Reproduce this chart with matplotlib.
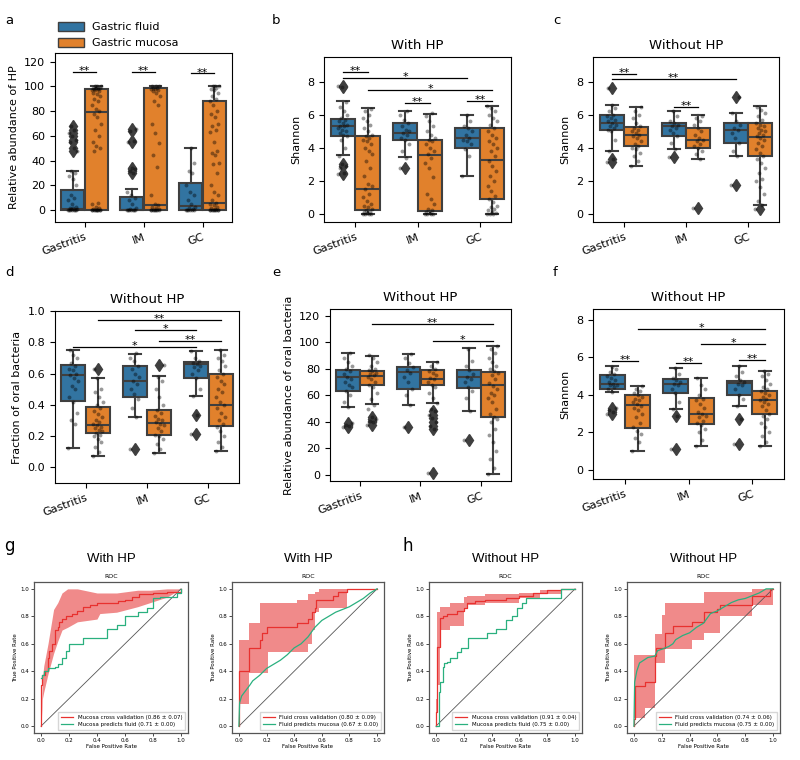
import matplotlib.pyplot as plt
import numpy as np

plt.rcParams['font.family'] = 'DejaVu Sans'

groups = ['Gastritis', 'IM', 'GC']
hue_names = ['Gastric fluid', 'Gastric mucosa']
box_colors = ['#3274a1', '#e1812c']
edge = '#3f3f3f'

# ---------------- panel a : relative abundance of HP ----------------
a_fluid = [
    [0, 0, 0, 0, 0.2, 0.3, 0.5, 1, 1, 1.5, 2, 3, 5, 8, 10, 12, 20, 25, 28, 30, 32,
     48, 50, 55, 57, 60, 62, 65, 68],
    [0, 0, 0, 0, 0, 0.3, 0.5, 1, 2, 5, 8, 10, 12, 15, 30, 32, 33, 34, 55, 56, 64, 66],
    [0, 0, 0, 0, 0, 0.5, 1, 2, 3, 5, 8, 12, 15, 20, 30, 32, 38, 50],
]
a_mucosa = [
    [0, 0, 0, 0, 0, 0, 0, 0.2, 0.3, 0.5, 1, 2, 3, 5, 6, 48, 50, 52, 55, 60, 65, 70, 75,
     78, 80, 82, 85, 88, 90, 92, 94, 95, 96, 97, 97, 98, 98, 99, 99, 99, 99, 100, 100, 100],
    [0, 0, 0, 0, 0, 0, 0, 0.5, 1, 2, 3, 4, 5, 12, 35, 45, 54, 62, 70, 85, 88, 92, 95, 96,
     97, 98, 98, 99, 99, 100, 100, 100],
    [0, 0, 0, 0, 0, 0, 0, 0.3, 0.5, 1, 2, 3, 4, 5, 6, 8, 12, 15, 20, 30, 37, 38, 45, 46, 48,
     55, 63, 65, 68, 70, 75, 78, 80, 85, 88, 90, 92, 95, 97, 98, 99, 100, 100, 100],
]
# box stats: (whisker low, q1, median, q3, whisker high)
a_fluid_box = [(0, 0, 1, 16.7, 32), (0, 0, 0.5, 10.8, 17), (0, 0, 3.2, 22, 50)]
a_mucosa_box = [(0, 0.5, 79.5, 98.3, 100), (0, 0, 4.3, 99, 100), (0, 0.3, 6, 88.5, 100)]
a_fluid_fliers = [[48, 50, 55, 57, 60, 62, 65, 68], [30, 32, 33, 34, 55, 56, 64, 66], []]
a_mucosa_fliers = [[], [], []]
# significance: (group1, hue1, group2, hue2, y, text)
a_sig = [(0, 0, 0, 1, 112, '**'), (1, 0, 1, 1, 111.5, '**'), (2, 0, 2, 1, 110.5, '**')]

# ---------------- panel b : Shannon with HP ----------------
b_fluid = [
    [2.4, 2.5, 2.8, 2.9, 3.0, 3.5, 4.0, 4.5, 4.7, 4.8, 4.9, 5.0, 5.1, 5.2, 5.3, 5.3, 5.4,
     5.5, 5.6, 5.7, 5.8, 6.0, 6.2, 6.5, 6.8, 7.7, 7.75],
    [2.8, 3.4, 3.8, 4.2, 4.5, 4.6, 4.8, 4.9, 5.0, 5.1, 5.3, 5.5, 5.7, 6.0, 6.2],
    [2.3, 3.5, 3.9, 4.2, 4.4, 4.5, 4.6, 4.8, 5.0, 5.2, 5.3, 5.6, 6.0],
]
b_mucosa = [
    [0, 0, 0, 0, 0.05, 0.1, 0.1, 0.2, 0.3, 0.4, 0.5, 0.6, 0.8, 1.0, 1.2, 1.5, 1.7, 1.8,
     2.3, 2.8, 3.2, 3.6, 3.8, 4.0, 4.2, 4.4, 4.5, 4.6, 4.7, 4.8, 5.0, 5.2, 5.4, 5.6, 5.8,
     6.0, 6.2, 6.35],
    [0, 0, 0, 0, 0.05, 0.1, 0.2, 0.3, 0.6, 0.9, 1.2, 2.2, 2.8, 3.1, 3.4, 3.6, 3.8, 4.0,
     4.2, 4.4, 4.5, 4.6, 4.8, 5.0, 5.3, 5.6, 5.9, 6.1],
    [0, 0, 0, 0.05, 0.1, 0.2, 0.3, 0.4, 0.5, 0.7, 0.9, 1.1, 1.4, 1.7, 2.0, 2.3, 2.6, 2.9,
     3.2, 3.5, 3.8, 4.0, 4.2, 4.4, 4.6, 4.8, 5.0, 5.2, 5.4, 5.6, 5.8, 6.0, 6.2, 6.4, 6.55],
]
b_fluid_box = [(3.54, 4.72, 5.32, 5.75, 6.84), (3.42, 4.45, 4.92, 5.47, 6.21),
               (2.27, 3.99, 4.6, 5.2, 6.01)]
b_mucosa_box = [(0, 0.2, 1.5, 4.7, 6.38), (0, 0.16, 3.58, 4.5, 6.07), (0, 0.89, 3.24, 5.22, 6.56)]
b_fluid_fliers = [[7.7, 7.75, 3.0, 2.9, 2.5, 2.4], [2.8], []]
b_mucosa_fliers = [[], [], []]
b_sig = [(0, 0, 0, 1, 8.6, '**'), (0, 0, 2, 0, 8.22, '*'), (0, 1, 2, 1, 7.53, '*'),
         (1, 0, 1, 1, 6.74, '**'), (2, 0, 2, 1, 6.84, '**')]

# ---------------- panel c : Shannon without HP ----------------
c_fluid = [
    [3.15, 3.3, 3.8, 4.5, 5.0, 5.1, 5.2, 5.3, 5.4, 5.5, 5.6, 5.7, 5.8, 5.9, 6.0, 6.2, 6.4,
     6.6, 7.65],
    [3.45, 3.95, 4.3, 4.7, 4.9, 5.1, 5.2, 5.3, 5.4, 5.5, 5.6, 5.9, 6.2],
    [1.75, 3.5, 3.8, 4.3, 4.6, 4.9, 5.1, 5.2, 5.4, 5.6, 6.1, 7.1],
]
c_mucosa = [
    [2.9, 3.2, 3.5, 3.7, 3.9, 4.0, 4.1, 4.2, 4.4, 4.6, 4.7, 4.8, 4.9, 5.0, 5.1, 5.2, 5.3,
     5.5, 5.8, 6.0, 6.2, 6.45],
    [0.35, 3.3, 3.6, 3.8, 4.0, 4.1, 4.2, 4.4, 4.5, 4.6, 4.8, 5.0, 5.2, 5.4, 5.6, 5.8, 5.95],
    [0.28, 0.55, 0.8, 1.2, 1.6, 2.0, 2.1, 2.5, 2.8, 3.1, 3.3, 3.5, 3.7, 3.9, 4.1, 4.3, 4.5,
     4.6, 4.7, 4.8, 4.9, 5.0, 5.1, 5.2, 5.3, 5.4, 5.5, 5.7, 5.9, 6.1, 6.3, 6.5],
]
c_fluid_box = [(3.8, 5.06, 5.5, 5.97, 6.62), (3.95, 4.7, 5.3, 5.5, 6.21),
               (3.48, 4.31, 5.1, 5.47, 6.11)]
c_mucosa_box = [(2.9, 4.09, 4.8, 5.26, 6.48), (3.3, 4.0, 4.49, 5.22, 5.97),
                (0.55, 3.5, 4.64, 5.5, 6.52)]
c_fluid_fliers = [[7.65, 3.3, 3.15], [3.45], [7.1, 1.75]]
c_mucosa_fliers = [[], [0.35], [0.28]]
c_sig = [(0, 0, 0, 1, 8.46, '**'), (0, 0, 2, 0, 8.16, '**'), (1, 0, 1, 1, 6.48, '**')]

# ---------------- panel d : fraction of oral bacteria ----------------
d_fluid = [
    [0.126, 0.28, 0.3, 0.35, 0.42, 0.45, 0.5, 0.52, 0.55, 0.57, 0.59, 0.6, 0.62, 0.63,
     0.65, 0.67, 0.7, 0.72, 0.75],
    [0.12, 0.32, 0.38, 0.44, 0.47, 0.5, 0.53, 0.55, 0.58, 0.6, 0.63, 0.65, 0.68, 0.7, 0.73],
    [0.215, 0.335, 0.455, 0.5, 0.57, 0.6, 0.62, 0.64, 0.65, 0.66, 0.67, 0.68, 0.7, 0.745],
]
d_mucosa = [
    [0.072, 0.1, 0.13, 0.16, 0.18, 0.2, 0.21, 0.22, 0.23, 0.24, 0.25, 0.26, 0.27, 0.28,
     0.29, 0.3, 0.32, 0.34, 0.36, 0.38, 0.4, 0.42, 0.45, 0.48, 0.5, 0.57, 0.63],
    [0.09, 0.12, 0.15, 0.18, 0.2, 0.21, 0.23, 0.25, 0.27, 0.28, 0.29, 0.3, 0.31, 0.33,
     0.35, 0.37, 0.4, 0.45, 0.5, 0.55, 0.58, 0.655],
    [0.106, 0.13, 0.16, 0.2, 0.23, 0.26, 0.28, 0.3, 0.32, 0.35, 0.38, 0.4, 0.42, 0.45, 0.48,
     0.5, 0.53, 0.55, 0.58, 0.6, 0.62, 0.65, 0.68, 0.7, 0.72, 0.75],
]
d_fluid_box = [(0.126, 0.425, 0.589, 0.653, 0.749), (0.321, 0.447, 0.553, 0.647, 0.728),
               (0.455, 0.572, 0.66, 0.672, 0.745)]
d_mucosa_box = [(0.072, 0.221, 0.274, 0.383, 0.574), (0.089, 0.209, 0.285, 0.37, 0.583),
                (0.106, 0.264, 0.402, 0.594, 0.749)]
d_fluid_fliers = [[], [0.12], [0.335, 0.215]]
d_mucosa_fliers = [[0.63], [0.655], []]
d_sig = [(0, 1, 2, 1, 0.94, '**'), (1, 0, 2, 0, 0.877, '*'), (1, 1, 2, 1, 0.806, '**'),
         (0, 0, 2, 0, 0.77, '*')]

# ---------------- panel e : relative abundance of oral bacteria ----------------
e_fluid = [
    [36, 37, 38, 39, 51, 55, 60, 63, 66, 68, 70, 72, 74, 76, 78, 80, 82, 85, 88, 92],
    [36.5, 52.7, 60, 65, 70, 74, 77, 79, 81, 84, 88, 91],
    [26.5, 48, 58, 63, 66, 70, 72, 74, 76, 79, 82, 86, 95],
]
e_mucosa = [
    [38, 40, 41, 42, 44, 50, 53, 57, 62, 66, 68, 70, 72, 74, 75, 76, 77, 78, 79, 80, 82,
     85, 88, 90],
    [1.5, 35, 37, 40, 43, 45, 48, 50, 54, 58, 62, 66, 68, 70, 72, 73, 75, 77, 78, 80, 82, 85],
    [0.75, 5, 12, 18, 25, 30, 35, 40, 42, 44, 46, 50, 55, 58, 60, 62, 65, 67, 69, 72, 75,
     77, 78, 80, 82, 85, 88, 92, 95, 97],
]
e_fluid_box = [(51.2, 63.3, 74, 79.1, 92), (52.7, 65, 77.3, 81, 91.1), (48.2, 65.8, 74, 79.1, 95.4)]
e_mucosa_box = [(53.2, 67.8, 74.6, 78.3, 89.6), (54, 67.5, 72.3, 79.1, 85.4),
                (0.75, 43.9, 67.5, 77.8, 97.2)]
e_fluid_fliers = [[39, 38, 37, 36], [36.5], [26.5]]
e_mucosa_fliers = [[44, 42, 41, 40, 38], [48, 45, 43, 40, 37, 35, 1.5], []]
e_sig = [(0, 1, 2, 1, 113.7, '**'), (1, 1, 2, 1, 101.2, '*')]

# ---------------- panel f : Shannon without HP (oral) ----------------
f_fluid = [
    [3.0, 3.1, 3.2, 3.3, 4.15, 4.3, 4.4, 4.5, 4.55, 4.6, 4.7, 4.8, 4.9, 5.0, 5.1, 5.2,
     5.35, 5.5],
    [1.1, 2.85, 3.25, 3.6, 4.1, 4.3, 4.5, 4.6, 4.7, 4.8, 4.9, 5.1, 5.42],
    [1.4, 2.7, 3.4, 3.8, 4.0, 4.3, 4.5, 4.6, 4.7, 4.8, 5.0, 5.2, 5.56],
]
f_mucosa = [
    [1.0, 1.5, 1.7, 1.9, 2.1, 2.3, 2.5, 2.8, 3.0, 3.2, 3.3, 3.4, 3.5, 3.6, 3.7, 3.8, 3.9,
     4.0, 4.1, 4.2, 4.3, 4.48],
    [1.28, 1.6, 2.0, 2.2, 2.4, 2.5, 2.6, 2.8, 2.9, 3.0, 3.1, 3.3, 3.5, 3.7, 3.8, 4.0, 4.3,
     4.5, 4.89],
    [1.28, 1.5, 1.8, 2.0, 2.3, 2.5, 2.7, 2.9, 3.0, 3.2, 3.4, 3.5, 3.6, 3.7, 3.8, 3.9, 4.0,
     4.1, 4.2, 4.3, 4.4, 4.6, 4.8, 5.0, 5.1, 5.28],
]
f_fluid_box = [(4.14, 4.32, 4.57, 5.07, 5.51), (3.24, 4.12, 4.57, 4.85, 5.42),
               (3.41, 4.0, 4.62, 4.76, 5.56)]
f_mucosa_box = [(1.01, 2.26, 3.45, 4.0, 4.48), (1.28, 2.44, 2.97, 3.82, 4.89),
                (1.28, 2.97, 3.73, 4.23, 5.28)]
f_fluid_fliers = [[3.3, 3.2, 3.1, 3.0], [2.85, 1.1], [2.7, 1.4]]
f_mucosa_fliers = [[], [], []]
f_sig = [(0, 0, 0, 1, 5.81, '**'), (1, 0, 1, 1, 5.69, '**'), (2, 0, 2, 1, 5.87, '**'),
         (0, 1, 2, 1, 7.52, '*'), (1, 1, 2, 1, 6.72, '*')]

# ---------------- ROC curves ----------------
roc1_cv_fpr = [0, 0.01, 0.03, 0.05, 0.06, 0.08, 0.1, 0.12, 0.13, 0.15, 0.18, 0.22, 0.26,
               0.3, 0.35, 0.4, 0.55, 0.6, 0.65, 0.7, 0.8, 0.9, 1.0]
roc1_cv_tpr = [0.3, 0.37, 0.4, 0.5, 0.55, 0.6, 0.7, 0.72, 0.76, 0.78, 0.8, 0.82, 0.84,
               0.87, 0.88, 0.9, 0.91, 0.92, 0.94, 0.96, 0.97, 0.98, 1.0]
roc1_band_fpr = [0, 0.01, 0.02, 0.05, 0.09, 0.12, 0.15, 0.19, 0.26, 0.4, 0.42, 0.54, 0.69,
                 0.78, 0.9, 1.0]
roc1_band_lo = [0.0, 0.2, 0.25, 0.38, 0.53, 0.62, 0.7, 0.72, 0.76, 0.78, 0.82, 0.83, 0.87,
                0.9, 0.94, 1.0]
roc1_band_hi = [0.0, 0.35, 0.44, 0.6, 0.85, 0.9, 0.97, 1.0, 1.0, 0.97, 0.97, 0.97, 0.99,
                0.99, 1.0, 1.0]
roc1_pr_fpr = [0, 0.01, 0.02, 0.05, 0.1, 0.12, 0.15, 0.18, 0.2, 0.3, 0.47, 0.54, 0.6,
               0.69, 0.76, 0.8, 0.85, 0.97, 1.0]
roc1_pr_tpr = [0.35, 0.37, 0.4, 0.42, 0.43, 0.45, 0.5, 0.55, 0.6, 0.64, 0.71, 0.74, 0.8,
               0.83, 0.86, 0.93, 0.94, 0.97, 1.0]
roc1_labels = ['Mucosa cross validation (0.86 ± 0.07)', 'Mucosa predicts fluid (0.71 ± 0.00)']

roc2_cv_fpr = [0, 0.07, 0.15, 0.17, 0.2, 0.42, 0.5, 0.53, 0.55, 0.56, 0.68, 0.72, 0.78, 1.0]
roc2_cv_tpr = [0.4, 0.57, 0.63, 0.68, 0.72, 0.75, 0.78, 0.83, 0.86, 0.92, 0.95, 0.98, 1.0, 1.0]
roc2_band_fpr = [0, 0.07, 0.15, 0.21, 0.42, 0.5, 0.53, 0.55, 0.58, 0.78, 1.0]
roc2_band_lo = [0.16, 0.39, 0.39, 0.54, 0.54, 0.6, 0.7, 0.83, 0.86, 1.0, 1.0]
roc2_band_hi = [0.63, 0.75, 0.9, 0.9, 0.92, 0.96, 0.96, 0.98, 1.0, 1.0, 1.0]
roc2_pr_fpr = [0, 0.005, 0.02, 0.05, 0.08, 0.1, 0.15, 0.2, 0.25, 0.3, 0.35, 0.4, 0.45, 0.5,
               0.55, 0.6, 0.65, 0.7, 0.75, 0.8, 0.85, 0.9, 0.95, 1.0]
roc2_pr_tpr = [0, 0.17, 0.22, 0.26, 0.3, 0.33, 0.37, 0.42, 0.45, 0.48, 0.52, 0.57, 0.6,
               0.65, 0.72, 0.77, 0.8, 0.83, 0.85, 0.87, 0.9, 0.93, 0.97, 1.0]
roc2_labels = ['Fluid cross validation (0.80 ± 0.09)', 'Fluid predicts mucosa (0.67 ± 0.00)']

roc3_cv_fpr = [0, 0.01, 0.03, 0.05, 0.08, 0.15, 0.2, 0.22, 0.28, 0.35, 0.5, 0.6, 0.7, 0.8,
               0.9, 1.0]
roc3_cv_tpr = [0.1, 0.58, 0.79, 0.8, 0.82, 0.84, 0.86, 0.9, 0.91, 0.92, 0.93, 0.95, 0.97,
               0.99, 1.0, 1.0]
roc3_band_fpr = [0, 0.01, 0.03, 0.1, 0.2, 0.22, 0.35, 0.6, 0.75, 0.9, 1.0]
roc3_band_lo = [0.0, 0.3, 0.7, 0.73, 0.85, 0.88, 0.9, 0.93, 0.96, 1.0, 1.0]
roc3_band_hi = [0.2, 0.83, 0.87, 0.9, 0.94, 0.95, 0.96, 0.97, 0.99, 1.0, 1.0]
roc3_pr_fpr = [0, 0.02, 0.03, 0.05, 0.06, 0.08, 0.1, 0.15, 0.18, 0.23, 0.37, 0.43, 0.5,
               0.55, 0.58, 0.62, 0.65, 0.9, 1.0]
roc3_pr_tpr = [0, 0.25, 0.32, 0.43, 0.46, 0.47, 0.5, 0.54, 0.57, 0.64, 0.68, 0.71, 0.77,
               0.8, 0.86, 0.9, 0.93, 1.0, 1.0]
roc3_labels = ['Mucosa cross validation (0.91 ± 0.04)', 'Mucosa predicts fluid (0.75 ± 0.00)']

roc4_cv_fpr = [0, 0.01, 0.08, 0.15, 0.16, 0.22, 0.28, 0.42, 0.5, 0.6, 0.62, 0.85, 0.98, 1.0]
roc4_cv_tpr = [0.05, 0.29, 0.32, 0.51, 0.57, 0.68, 0.73, 0.76, 0.83, 0.85, 0.88, 0.95, 1.0, 1.0]
roc4_band_fpr = [0, 0.08, 0.15, 0.2, 0.22, 0.42, 0.5, 0.62, 0.85, 0.98, 1.0]
roc4_band_lo = [0.06, 0.13, 0.46, 0.46, 0.56, 0.63, 0.68, 0.8, 0.88, 0.88, 1.0]
roc4_band_hi = [0.52, 0.52, 0.67, 0.81, 0.9, 0.9, 0.98, 0.98, 1.0, 1.0, 1.0]
roc4_pr_fpr = [0, 0.005, 0.02, 0.04, 0.07, 0.1, 0.15, 0.17, 0.2, 0.25, 0.28, 0.3, 0.35, 0.4,
               0.45, 0.5, 0.55, 0.6, 0.65, 0.7, 0.75, 0.8, 0.85, 0.9, 0.95, 1.0]
roc4_pr_tpr = [0, 0.32, 0.4, 0.46, 0.48, 0.5, 0.51, 0.55, 0.56, 0.58, 0.6, 0.63, 0.66, 0.68,
               0.72, 0.75, 0.82, 0.84, 0.87, 0.9, 0.92, 0.93, 0.95, 0.97, 1.0, 1.0]
roc4_labels = ['Fluid cross validation (0.74 ± 0.06)', 'Fluid predicts mucosa (0.75 ± 0.00)']


def box_stats(box, fliers):
    lo, q1, med, q3, hi = box
    return dict(whislo=lo, q1=q1, med=med, q3=q3, whishi=hi, fliers=fliers)


def hue_x(group, hue):
    return group + (hue - 0.5) * 0.4


def draw_box_panel(ax, fluid, mucosa, fluid_box, mucosa_box, fluid_fl, mucosa_fl, sig,
                   ylim, yticks, ylabel, title=None):
    for hue, (vals, boxes, fls) in enumerate([(fluid, fluid_box, fluid_fl),
                                             (mucosa, mucosa_box, mucosa_fl)]):
        pos = [hue_x(g, hue) for g in range(3)]
        stats = [box_stats(b, f) for b, f in zip(boxes, fls)]
        line = dict(color=edge, linewidth=1.5)
        ax.bxp(stats, positions=pos, widths=0.39, patch_artist=True, manage_ticks=False,
               boxprops=dict(facecolor=box_colors[hue], edgecolor=edge, linewidth=1.5),
               medianprops=line, whiskerprops=line, capprops=line,
               flierprops=dict(marker='d', markerfacecolor=edge, markeredgecolor=edge,
                               markersize=6))
        for g, v in enumerate(vals):
            n = len(v)
            jit = ((np.arange(n) * 0.618034) % 1 - 0.5) * 0.16
            ax.plot(hue_x(g, hue) + jit, v, 'o', color='black', alpha=0.4, ms=2.8,
                    mec='none', zorder=4)
    for g1, h1, g2, h2, y, txt in sig:
        x1, x2 = hue_x(g1, h1), hue_x(g2, h2)
        ax.plot([x1, x2], [y, y], color='black', lw=0.9)
        ax.annotate(txt, ((x1 + x2) / 2, y), xytext=(0, -1.5), textcoords='offset points',
                    ha='center', va='baseline', fontsize=8)
    ax.set_xlim(-0.5, 2.5)
    ax.set_ylim(*ylim)
    ax.set_yticks(yticks)
    ax.set_xticks(range(3))
    ax.set_xticklabels(groups, rotation=20, ha='right', rotation_mode='anchor')
    ax.tick_params(labelsize=8)
    ax.set_ylabel(ylabel, fontsize=8)
    if title:
        ax.set_title(title, fontsize=9.5)


def draw_roc(ax, cv_fpr, cv_tpr, band_fpr, band_lo, band_hi, pr_fpr, pr_tpr, labels,
             stepped, band_step):
    ax.fill_between(band_fpr, band_lo, band_hi, step='post' if band_step else None,
                    color='#f08a8a', lw=0)
    ax.plot([0, 1], [0, 1], color='#555555', lw=0.6)
    ax.step([0] + cv_fpr, [0] + cv_tpr, where='post', color='#e8312f', lw=0.9,
            label=labels[0])
    if stepped:
        ax.step(pr_fpr, pr_tpr, where='post', color='#2ab07f', lw=0.9, label=labels[1])
    else:
        ax.plot(pr_fpr, pr_tpr, color='#2ab07f', lw=0.9, label=labels[1])
    ax.set_xlim(-0.05, 1.05)
    ax.set_ylim(-0.05, 1.05)
    ax.set_xticks(np.arange(0, 1.01, 0.2))
    ax.set_yticks(np.arange(0, 1.01, 0.2))
    ax.tick_params(labelsize=4, length=2, width=0.5, pad=1.5)
    ax.set_xlabel('False Positive Rate', fontsize=4, labelpad=1)
    ax.set_ylabel('True Positive Rate', fontsize=4, labelpad=2)
    ax.set_title('ROC', fontsize=4.5, pad=3)
    for s in ax.spines.values():
        s.set_color('#555555')
        s.set_linewidth(0.9)
    ax.legend(loc='lower right', fontsize=4, handlelength=2.2, borderpad=0.5,
              fancybox=False, edgecolor='#cccccc')


fig = plt.figure(figsize=(8, 7.6), dpi=100)

W, H = 800.0, 760.0


def add_ax(x0, y0, x1, y1):
    return fig.add_axes([x0 / W, 1 - y1 / H, (x1 - x0) / W, (y1 - y0) / H])


ax_a = add_ax(55, 53, 232, 222)
ax_b = add_ax(324, 57, 511, 222)
ax_c = add_ax(593, 57, 779, 222)
ax_d = add_ax(55, 311, 239, 483)
ax_e = add_ax(330, 309, 511, 481)
ax_f = add_ax(593, 309, 784, 479)

draw_box_panel(ax_a, a_fluid, a_mucosa, a_fluid_box, a_mucosa_box, a_fluid_fliers,
               a_mucosa_fliers, a_sig, (-9.5, 127), range(0, 121, 20),
               'Relative abundance of HP')
draw_box_panel(ax_b, b_fluid, b_mucosa, b_fluid_box, b_mucosa_box, b_fluid_fliers,
               b_mucosa_fliers, b_sig, (-0.5, 9.5), range(0, 9, 2), 'Shannon', 'With HP')
draw_box_panel(ax_c, c_fluid, c_mucosa, c_fluid_box, c_mucosa_box, c_fluid_fliers,
               c_mucosa_fliers, c_sig, (-0.5, 9.5), range(0, 9, 2), 'Shannon', 'Without HP')
draw_box_panel(ax_d, d_fluid, d_mucosa, d_fluid_box, d_mucosa_box, d_fluid_fliers,
               d_mucosa_fliers, d_sig, (-0.1, 1.0), np.arange(0, 1.01, 0.2),
               'Fraction of oral bacteria', 'Without HP')
draw_box_panel(ax_e, e_fluid, e_mucosa, e_fluid_box, e_mucosa_box, e_fluid_fliers,
               e_mucosa_fliers, e_sig, (-4.5, 125), range(0, 121, 20),
               'Relative abundance of oral bacteria', 'Without HP')
draw_box_panel(ax_f, f_fluid, f_mucosa, f_fluid_box, f_mucosa_box, f_fluid_fliers,
               f_mucosa_fliers, f_sig, (-0.48, 8.57), range(0, 9, 2), 'Shannon', 'Without HP')
ax_d.set_yticklabels(['0.0', '0.2', '0.4', '0.6', '0.8', '1.0'])

# legend for box panels
handles = [plt.Rectangle((0, 0), 1, 1, facecolor=c, edgecolor=edge, lw=1) for c in box_colors]
fig.legend(handles, hue_names, loc='upper left', bbox_to_anchor=(48 / W, 1 - 12 / H),
           frameon=False, fontsize=8, handlelength=2.3, handleheight=0.9, labelspacing=0.5)

# ROC panels
roc_axes = [add_ax(34, 582, 188, 733), add_ax(232, 582, 384, 733),
            add_ax(429, 582, 582, 733), add_ax(627, 582, 780, 733)]
draw_roc(roc_axes[0], roc1_cv_fpr, roc1_cv_tpr, roc1_band_fpr, roc1_band_lo, roc1_band_hi,
         roc1_pr_fpr, roc1_pr_tpr, roc1_labels, True, False)
draw_roc(roc_axes[1], roc2_cv_fpr, roc2_cv_tpr, roc2_band_fpr, roc2_band_lo, roc2_band_hi,
         roc2_pr_fpr, roc2_pr_tpr, roc2_labels, False, True)
draw_roc(roc_axes[2], roc3_cv_fpr, roc3_cv_tpr, roc3_band_fpr, roc3_band_lo, roc3_band_hi,
         roc3_pr_fpr, roc3_pr_tpr, roc3_labels, True, True)
draw_roc(roc_axes[3], roc4_cv_fpr, roc4_cv_tpr, roc4_band_fpr, roc4_band_lo, roc4_band_hi,
         roc4_pr_fpr, roc4_pr_tpr, roc4_labels, False, True)

for ax, t in zip(roc_axes, ['With HP', 'With HP', 'Without HP', 'Without HP']):
    pos = ax.get_position()
    fig.text((pos.x0 + pos.x1) / 2, 1 - 559 / H, t, ha='center', va='center',
             fontsize=9.5, family='Liberation Sans')

# panel letters
for lbl, x, y, fs in [('a', 5, 21, 9.5), ('b', 272, 21, 9.5), ('c', 553, 21, 9.5),
                      ('d', 5, 273, 9.5), ('e', 272, 273, 9.5), ('f', 553, 273, 9.5),
                      ('g', 4, 546, 12), ('h', 403, 546, 12)]:
    fig.text(x / W, 1 - y / H, lbl, ha='left', va='center', fontsize=fs)

fig.savefig('out.png', dpi=100)
